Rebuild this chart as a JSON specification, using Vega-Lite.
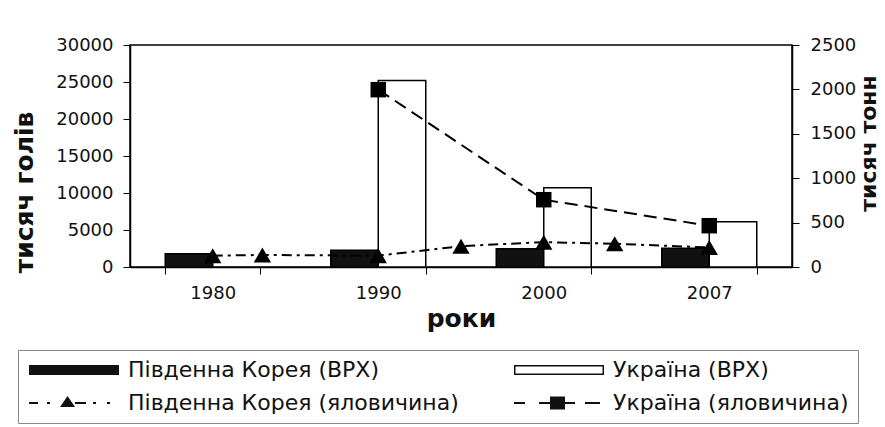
{
  "$schema": "https://vega.github.io/schema/vega-lite/v6.json",
  "width": 662,
  "height": 222,
  "autosize": {"type": "none"},
  "padding": {"left": 130, "top": 45, "right": 93, "bottom": 160},
  "background": "white",
  "config": {
    "font": "DejaVu Sans",
    "view": {"stroke": "black", "strokeWidth": 1.5},
    "axis": {
      "labelFont": "DejaVu Sans",
      "labelFontSize": 18,
      "labelColor": "#111111",
      "tickColor": "black",
      "tickWidth": 1,
      "tickSize": 7,
      "domainColor": "black",
      "domainWidth": 1.5,
      "labelPadding": 9,
      "titleFont": "DejaVu Sans",
      "titleFontSize": 25,
      "titleFontWeight": "bold",
      "titleColor": "#111111",
      "grid": false
    }
  },
  "datasets": {
    "cattle": [
      {"year": "1980", "series": "Південна Корея (ВРХ)", "value": 1800},
      {"year": "1990", "series": "Південна Корея (ВРХ)", "value": 2250},
      {"year": "2000", "series": "Південна Корея (ВРХ)", "value": 2450},
      {"year": "2007", "series": "Південна Корея (ВРХ)", "value": 2550},
      {"year": "1990", "series": "Україна (ВРХ)", "value": 25200},
      {"year": "2000", "series": "Україна (ВРХ)", "value": 10700},
      {"year": "2007", "series": "Україна (ВРХ)", "value": 6100}
    ],
    "beef": [
      {"year": 1980, "series": "Південна Корея (яловичина)", "value": 128},
      {"year": 1983, "series": "Південна Корея (яловичина)", "value": 135},
      {"year": 1990, "series": "Південна Корея (яловичина)", "value": 128},
      {"year": 1995, "series": "Південна Корея (яловичина)", "value": 235},
      {"year": 2000, "series": "Південна Корея (яловичина)", "value": 280},
      {"year": 2003, "series": "Південна Корея (яловичина)", "value": 262},
      {"year": 2007, "series": "Південна Корея (яловичина)", "value": 220},
      {"year": 1990, "series": "Україна (яловичина)", "value": 1997},
      {"year": 2000, "series": "Україна (яловичина)", "value": 758},
      {"year": 2007, "series": "Україна (яловичина)", "value": 465}
    ]
  },
  "layer": [
    {
      "data": {"name": "cattle"},
      "mark": {"type": "bar", "stroke": "black", "strokeWidth": 1.5},
      "encoding": {
        "x": {
          "field": "year",
          "type": "nominal",
          "scale": {"domain": ["1980", "1990", "2000", "2007"], "paddingInner": 0.426, "paddingOuter": 0.213},
          "axis": {"title": "роки", "labelAngle": 0, "tickBand": "extent", "labelPadding": 10, "titlePadding": 4}
        },
        "xOffset": {
          "field": "series",
          "type": "nominal",
          "scale": {"domain": ["Південна Корея (ВРХ)", "Україна (ВРХ)"], "paddingInner": 0, "paddingOuter": 0}
        },
        "y": {
          "field": "value",
          "type": "quantitative",
          "scale": {"domain": [0, 30000], "nice": false, "zero": true},
          "axis": {
            "title": "тисяч голів",
            "values": [0, 5000, 10000, 15000, 20000, 25000, 30000],
            "format": "d",
            "labelPadding": 10,
            "titlePadding": 18,
            "titleY": 147
          }
        },
        "fill": {
          "field": "series",
          "type": "nominal",
          "scale": {"domain": ["Південна Корея (ВРХ)", "Україна (ВРХ)"], "range": ["#111111", "#ffffff"]},
          "legend": null
        }
      }
    },
    {
      "data": {"name": "beef"},
      "encoding": {
        "x": {
          "field": "year",
          "type": "quantitative",
          "scale": {"type": "linear", "domain": [1980, 1990, 2000, 2007], "range": [82.75, 248.25, 413.75, 579.25], "nice": false, "zero": false},
          "axis": null
        },
        "y": {
          "field": "value",
          "type": "quantitative",
          "scale": {"domain": [0, 2500], "nice": false, "zero": true},
          "axis": {
            "orient": "right",
            "title": "тисяч тонн",
            "values": [0, 500, 1000, 1500, 2000, 2500],
            "format": "d",
            "labelPadding": 11,
            "titleAngle": 270,
            "titleBaseline": "top",
            "titleFontSize": 22,
            "titlePadding": 3,
            "titleY": 98
          }
        }
      },
      "layer": [
        {
          "mark": {"type": "line", "stroke": "black", "strokeWidth": 2},
          "encoding": {
            "strokeDash": {
              "field": "series",
              "type": "nominal",
              "scale": {"domain": ["Південна Корея (яловичина)", "Україна (яловичина)"], "range": [[10, 5, 3, 5], [13, 7]]},
              "legend": null
            }
          }
        },
        {
          "mark": {"type": "point", "filled": true, "color": "black", "opacity": 1},
          "encoding": {
            "shape": {
              "condition": {"test": "datum.series === 'Україна (яловичина)'", "value": "square"},
              "value": "triangle-up"
            },
            "size": {
              "condition": {"test": "datum.series === 'Україна (яловичина)'", "value": 240},
              "value": 300
            }
          }
        },
        {
          "mark": {"type": "point", "filled": true, "color": "#111111", "opacity": 0, "strokeWidth": 0},
          "encoding": {
            "shape": {
              "field": "series",
              "type": "nominal",
              "scale": {
                "domain": ["Південна Корея (ВРХ)", "Україна (ВРХ)", "Південна Корея (яловичина)", "Україна (яловичина)"],
                "range": [
                  "M-1.5,-0.83H13.5V0.83H-1.5Z",
                  "M-1.5,-0.83H13.5V0.83H-1.5Z M-1.25,-0.58V0.58H13.25V-0.58Z",
                  "M-1.5,-0.17H0V0.17H-1.5Z M1.5,-0.17H2V0.17H1.5Z M3.67,0.67L4.92,-1.17L6.17,0.67Z M6.17,-0.17H8V0.17H6.17Z M9.17,-0.17H9.67V0.17H9.17Z M11.5,-0.17H12V0.17H11.5Z",
                  "M-1.5,-0.17H0.33V0.17H-1.5Z M2.67,-0.17H4.5V0.17H2.67Z M4.5,-1.08H7V1.08H4.5Z M7,-0.17H8.67V0.17H7Z M10.33,-0.17H12.83V0.17H10.33Z"
                ]
              },
              "legend": {
                "title": null,
                "orient": "none",
                "legendX": -112,
                "legendY": 305,
                "direction": "horizontal",
                "columns": 2,
                "symbolSize": 144,
                "symbolOpacity": 1,
                "symbolFillColor": "#111111",
                "symbolStrokeWidth": 0,
                "labelFont": "DejaVu Sans",
                "labelFontSize": 22,
                "labelColor": "#111111",
                "labelLimit": 600,
                "labelOffset": 79,
                "columnPadding": 53,
                "rowPadding": 11,
                "padding": 9,
                "strokeColor": "#8a8a8a",
                "fillColor": "white"
              }
            }
          }
        }
      ]
    }
  ],
  "resolve": {"scale": {"x": "independent", "y": "independent", "strokeDash": "independent", "shape": "independent", "fill": "independent"}}
}
